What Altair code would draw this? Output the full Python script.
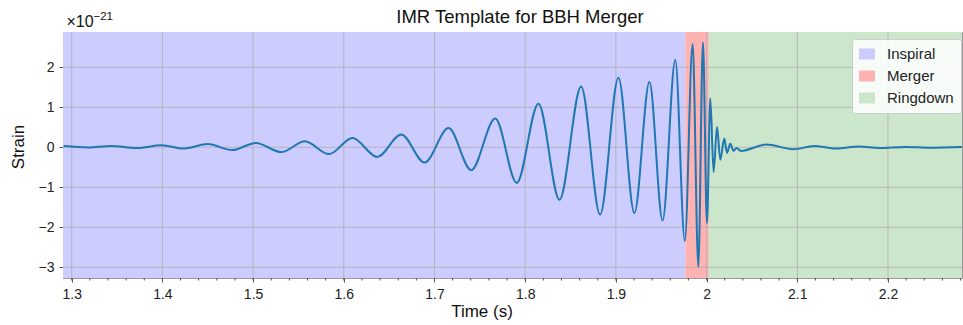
import altair as alt
import pandas as pd

# ---- data (strain in units of 1e-21) ----
time_s = [1.291, 1.318, 1.343, 1.372, 1.399, 1.424, 1.450, 1.477, 1.503, 1.531,
          1.557, 1.5837, 1.6095, 1.637, 1.6634, 1.689, 1.7155, 1.7405, 1.767, 1.7907,
          1.8146, 1.8378, 1.8617, 1.8826, 1.9028, 1.9204, 1.937, 1.9515, 1.9655, 1.976,
          1.9846, 1.9909, 1.9960, 2.0004, 2.0041, 2.0077, 2.0115, 2.0151, 2.0195, 2.0225,
          2.0261, 2.0297, 2.0330, 2.0379, 2.0655, 2.0960, 2.1186, 2.1425, 2.1682, 2.1902,
          2.2196, 2.2453, 2.2820]
strain_e21 = [0.03, -0.005, 0.03, -0.02, 0.05, -0.03, 0.08, -0.07, 0.11, -0.12,
              0.15, -0.17, 0.23, -0.24, 0.32, -0.38, 0.48, -0.57, 0.72, -0.89,
              1.09, -1.31, 1.52, -1.68, 1.74, -1.64, 1.63, -1.83, 2.18, -2.34,
              2.58, -2.99, 2.62, -1.89, 1.22, -0.62, 0.51, -0.31, 0.22, -0.14,
              0.09, -0.09, -0.02, -0.09, 0.07, -0.05, 0.035, -0.03, 0.02, -0.02,
              0.01, -0.01, 0.01]

phase_names = ["Inspiral", "Merger", "Ringdown"]
phase_start = [1.20, 1.9765, 2.0025]
phase_end = [1.9765, 2.0025, 2.40]
phase_colors = ["#ccccff", "#ffb2b2", "#cce6cc"]

x_major = [1.3, 1.4, 1.5, 1.6, 1.7, 1.8, 1.9, 2.0, 2.1, 2.2]
x_minor = [round(1.30 + 0.02 * i, 2) for i in range(50)]
y_ticks = [-3, -2, -1, 0, 1, 2]
x_domain = [1.2904, 2.2816]
y_domain = [-3.2675, 2.8825]

title_text = "IMR Template for BBH Merger"
x_title = "Time (s)"
y_title = "Strain"
offset_base = "×10"
offset_exp = "−21"

FONT = "Liberation Sans"
W, H = 899, 246

wave = pd.DataFrame({"t": time_s, "h": strain_e21})
bands = pd.DataFrame({"phase": phase_names, "start": phase_start, "end": phase_end})
minor = pd.DataFrame({"t": [v for v in x_minor if x_domain[0] <= v <= x_domain[1]]})
xgrid = pd.DataFrame({"t": x_major})
ygrid = pd.DataFrame({"h": y_ticks})

xscale = alt.Scale(domain=x_domain, nice=False, zero=False)
yscale = alt.Scale(domain=y_domain, nice=False, zero=False)

band_layer = alt.Chart(bands).mark_rect(clip=True).encode(
    x=alt.X("start:Q", scale=xscale,
            axis=alt.Axis(values=x_major, format="~g", title=None, grid=False,
                          tickSize=4, labelPadding=5)),
    x2="end:Q",
    color=alt.Color("phase:N",
                    scale=alt.Scale(domain=phase_names, range=phase_colors),
                    legend=alt.Legend(title=None, orient="none", legendX=789, legendY=7,
                                      symbolType="M-1,-0.69H1V0.69H-1Z", symbolSize=256,
                                      symbolStrokeWidth=0, symbolOpacity=1,
                                      labelFontSize=15, labelFont=FONT, labelColor="#222",
                                      labelOffset=12, rowPadding=6, padding=7,
                                      fillColor="rgba(255,255,255,0.85)",
                                      strokeColor="#cccccc", cornerRadius=3)),
)

xgrid_layer = alt.Chart(xgrid).mark_rule(color="#b0b0b0", strokeWidth=1, opacity=0.85).encode(
    x=alt.X("t:Q", scale=xscale))
ygrid_layer = alt.Chart(ygrid).mark_rule(color="#b0b0b0", strokeWidth=1, opacity=0.85).encode(
    y=alt.Y("h:Q", scale=yscale))

line_layer = alt.Chart(wave).mark_line(
    interpolate="monotone", color="#1f77b4", strokeWidth=2, clip=True
).encode(
    x=alt.X("t:Q", scale=xscale),
    y=alt.Y("h:Q", scale=yscale,
            axis=alt.Axis(values=y_ticks, format="~g", title=None, grid=False,
                          tickSize=4, labelPadding=5)),
)

minor_layer = alt.Chart(minor).mark_rule(color="#555", strokeWidth=1).encode(
    x=alt.X("t:Q", scale=xscale),
    y=alt.value(H),
    y2=alt.value(H + 2.5),
)


def label(text, x, y, size, angle=0, align="left"):
    return alt.Chart(pd.DataFrame({"s": [text]})).mark_text(
        align=align, baseline="alphabetic", font=FONT, fontSize=size,
        color="#111", angle=angle
    ).encode(x=alt.value(x), y=alt.value(y), text="s:N")


off_base = label(offset_base, 3.5, -5.5, 16)
off_exp = label(offset_exp, 30.5, -12, 11.5)
title_layer = label(title_text, 457, -9.5, 18.5, align="center")
xtitle_layer = label(x_title, 419, 285, 17, align="center")
ytitle_layer = label(y_title, -39, 115, 17, angle=270, align="center")

chart = alt.layer(
    band_layer, xgrid_layer, ygrid_layer, line_layer, minor_layer,
    off_base, off_exp, title_layer, xtitle_layer, ytitle_layer
).properties(
    width=W, height=H,
    autosize=alt.AutoSizeParams(type="none"),
    padding={"left": 63, "top": 32, "right": 1, "bottom": 47},
    background="white",
).configure_view(
    stroke="#999999", strokeWidth=1
).configure_axis(
    labelFont=FONT, labelFontSize=14, labelColor="#222",
    tickColor="#555", domain=False,
)

chart.save("out.html", embed_options={"renderer": "svg", "actions": False})
